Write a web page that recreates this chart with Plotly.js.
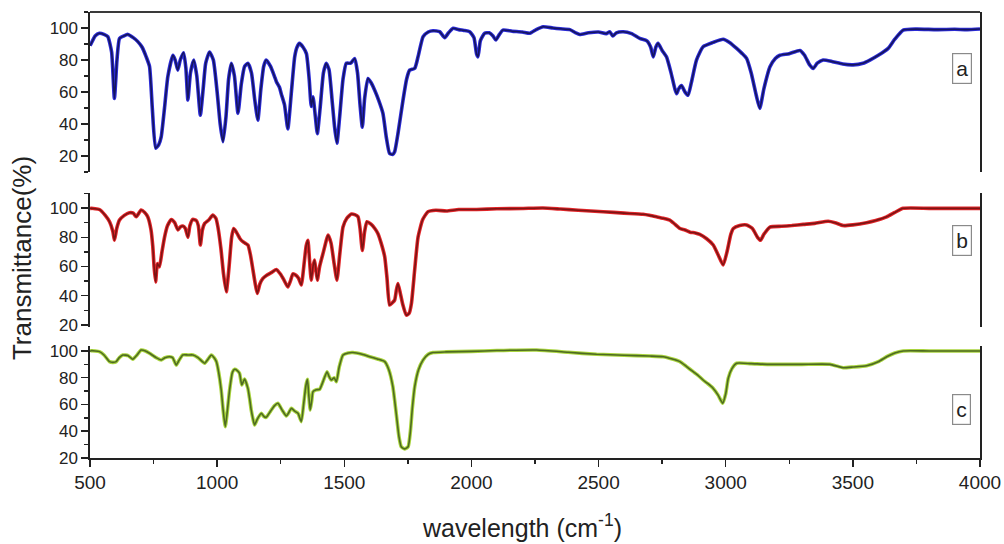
<!DOCTYPE html>
<html>
<head>
<meta charset="utf-8">
<script src="https://cdn.plot.ly/plotly-3.0.1.min.js"></script>
<style>
  html, body { margin: 0; padding: 0; background: #ffffff; }
  #chart { width: 1004px; height: 544px; }
</style>
</head>
<body>
<div id="chart"></div>
<script>
// ---- data ----
const xA = [500,505,520,537,555,570,585,596,606,616,632,649,670,688,705,721,734,745,758,770,780,793,806,826,835,845,855,868,877,885,895,908,920,934,945,955,970,985,1000,1012,1023,1035,1045,1056,1068,1082,1095,1108,1121,1135,1148,1160,1172,1183,1193,1210,1225,1233,1245,1252,1265,1278,1292,1305,1314,1324,1338,1351,1362,1370,1377,1386,1394,1405,1418,1429,1440,1452,1462,1471,1482,1495,1508,1525,1541,1552,1562,1571,1580,1593,1605,1620,1635,1652,1665,1678,1690,1698,1712,1731,1745,1757,1777,1790,1810,1830,1849,1875,1895,1910,1928,1950,1970,1993,2010,2020,2026,2035,2052,2070,2085,2096,2110,2124,2160,2200,2230,2255,2282,2320,2350,2387,2410,2426,2460,2500,2530,2544,2556,2570,2597,2630,2662,2690,2705,2715,2725,2734,2750,2767,2785,2800,2807,2815,2826,2840,2852,2865,2885,2911,2950,2990,3015,3043,3065,3082,3100,3120,3134,3150,3174,3195,3213,3250,3292,3310,3330,3344,3360,3383,3420,3460,3501,3540,3567,3600,3639,3665,3698,3750,3830,3900,3950,4000];
const yA = [89,90.4,95,96.7,96,94.6,85,56,80,93.5,95,96,94,91.5,88,82,76,50,25,27,32,50,69.6,83,80,73.7,80,84.6,75,55,72,80,70,45.6,62,78,85,80,60,40,29,45,68,78,70,46.7,65,76,78,72,55,42.5,62,76,80,76,70,66.5,63,59,52,37,60,82,88,90.4,88,84,68,51,57,45,34,50,72,78,74,55,38,28,45,68,78,78,81,72,52,38,56,68.5,66,61,55,46.7,32,21.7,21,22.7,35,55,68,73.7,74.8,82,94.6,97.5,98.3,97.7,94,97,99.8,99,98.5,97.7,94,84,82,92,96.7,97,95,92.5,96,98.7,98,97.5,96.7,99,100.8,100,99.5,99,97,96,97,97.5,96.5,97.7,95,97,97.7,96.5,93.5,92,88,82,88,90.4,86,82,72,62,59,62,64,60,58,66,80,88.3,91,93,91,87.3,84,81,72,58,49.8,62,75.8,81,83,84,86,83,77,74.8,78,80,79,77.5,77,78,80,83,87.3,93,98.7,99.3,99,99.2,99,99.4];

const xB = [500,505,537,560,577,590,596,605,616,635,655,670,682,701,715,727,740,747,752,758,765,773,783,793,805,820,833,846,855,865,875,885,893,904,918,926,934,942,951,968,983,995,1003,1015,1025,1036,1047,1057,1065,1074,1082,1090,1101,1110,1121,1131,1141,1150,1158,1168,1180,1195,1215,1233,1248,1262,1278,1288,1298,1310,1320,1331,1342,1350,1357,1363,1370,1377,1383,1388,1394,1403,1418,1428,1436,1448,1460,1471,1482,1495,1510,1528,1541,1554,1562,1571,1580,1589,1605,1620,1632,1645,1659,1668,1678,1688,1698,1705,1711,1720,1730,1744,1755,1764,1777,1790,1808,1829,1860,1902,1950,2020,2100,2200,2281,2350,2420,2518,2600,2675,2700,2728,2755,2780,2800,2820,2840,2860,2880,2898,2925,2951,2970,2990,3005,3020,3030,3055,3082,3105,3125,3137,3150,3174,3220,3260,3305,3350,3403,3430,3462,3500,3554,3590,3633,3665,3698,3800,3900,4000];
const yB = [99.5,99.8,99,95,90.6,84,78,86,91.8,95,96.8,96.5,94,98.6,97,94,85,73.5,60,49.5,62,59.8,70,80,88,92.2,90,85,87,87.7,86,80,88,92.2,91.5,88,74.7,85,89.5,92,95.2,93,87,72,55,42.7,60,80,86,84,81.5,79,77,76,74.7,68,57.5,48,41.6,48,51.8,54,56,58,55,51,46,50,55,54,52,47.3,62,74,78,65,50.7,60,64.4,58,50.7,60,70,77,81.5,76,62,50.7,68,87,93,95.9,95.5,94,86,71,84,90.6,89,86,82.6,76,66.6,52,33.6,35,37,44,48.4,42,34,26.7,28,34.7,58,80,92,97.5,98.5,98,99,99,99.5,99.7,100,99.3,98.5,97.5,96.5,95.7,95,94,93,91.8,89,86,85,83.5,83,82,79,74.7,68,61,70,82,86,88,88.4,86,80,78,82,87,87.5,88,88.8,89.5,91,90,88,88.5,90,91.5,94,97,99.8,99.8,99.8,99.8];

const xC = [500,505,537,555,577,590,603,615,629,650,668,685,701,718,734,760,780,795,813,825,839,850,865,885,905,925,951,965,977,988,997,1006,1016,1024,1032,1040,1049,1060,1069,1078,1088,1097,1108,1121,1128,1134,1140,1147,1158,1174,1184,1193,1210,1225,1239,1255,1272,1282,1292,1305,1318,1331,1340,1349,1355,1360,1366,1372,1377,1390,1403,1418,1432,1440,1449,1460,1469,1480,1495,1515,1534,1570,1600,1630,1659,1675,1691,1705,1715,1724,1737,1751,1760,1768,1777,1792,1810,1830,1849,1900,2000,2100,2256,2380,2492,2600,2700,2754,2790,2820,2845,2872,2890,2911,2930,2951,2970,2988,3000,3010,3025,3043,3100,3174,3300,3410,3440,3462,3500,3554,3600,3633,3665,3698,3800,4000];
const yC = [99.8,100.2,99.5,97,92,91.5,92,95,97,96.5,93.8,97,100.7,100,98.3,95,93.3,95,95.7,95,89.5,93,97,97,97,95,90.8,94,97,95,92,84,70.8,55,43.4,55,70.8,84,86.3,85.5,83.3,74.6,79,72,64,55.9,50,44.7,49,53.4,51,50.4,55,59,60.9,56,51.4,54,57.2,55,53.4,47.2,60,74,78.8,68,55.9,63,69.6,71,71.3,78,84.5,81,78.3,80,77,88,97,98.5,98.8,97.5,95.7,94,92,86,73.3,52,36,28.4,26.8,28.4,40,58,73.3,86,93.3,97.5,98.8,99.3,99.7,100.3,100.7,99,97.5,96.8,96.2,95.7,94,92,88.5,84.5,82,78.3,75.5,72,67,60.9,68,79.6,87,90.8,90.5,90,90,90,88.5,87.5,88,89,92,95.7,98.5,100,100,100];

const panelLabels = ['a', 'b', 'c'];
const xTitle = 'wavelength (cm<sup>-1</sup>)';
const yTitle = 'Transmittance(%)';
const yTickVals = [20, 40, 60, 80, 100];

// ---- styling ----
const series = [
  {x: xA, y: yA, ax: 'y',  halo: '#2b2bd6', core: '#15155e'},
  {x: xB, y: yB, ax: 'y2', halo: '#e3262a', core: '#7c1414'},
  {x: xC, y: yC, ax: 'y3', halo: '#a9d43e', core: '#4d6a22'}
];
const traces = [];
series.forEach(s => {
  traces.push({x: s.x, y: s.y, yaxis: s.ax, xaxis: 'x', mode: 'lines',
    line: {color: s.halo, width: 3.6, shape: 'spline', smoothing: 0.5},
    hoverinfo: 'skip', showlegend: false});
  traces.push({x: s.x, y: s.y, yaxis: s.ax, xaxis: 'x', mode: 'lines',
    line: {color: s.core, width: 1.6, shape: 'spline', smoothing: 0.5},
    showlegend: false});
});

const font = 'Arial';
function yax(domain, range) {
  return {
    domain: domain, range: range, anchor: 'x',
    showline: true, linecolor: '#222', linewidth: 1.6, mirror: true,
    ticks: 'outside', ticklen: 7, tickwidth: 1.5, tickcolor: '#222',
    tickvals: yTickVals, ticktext: yTickVals.map(String),
    minor: {tickvals: [10,30,50,70,90,110].filter(v => v >= range[0] && v <= range[1]), ticks: 'outside', ticklen: 4, tickwidth: 1.3, tickcolor: '#222'},
    tickfont: {family: font, size: 17, color: '#222'},
    showgrid: false, zeroline: false, fixedrange: true
  };
}

const layout = {
  width: 1004, height: 544,
  margin: {l: 90, r: 24, t: 12, b: 86},
  paper_bgcolor: '#ffffff', plot_bgcolor: '#ffffff',
  showlegend: false,
  font: {family: font, color: '#222'},
  xaxis: {
    domain: [0, 1], range: [500, 4000], anchor: 'y3',
    showline: true, linecolor: '#222', linewidth: 1.6,
    ticks: 'outside', ticklen: 7, tickwidth: 1.5, tickcolor: '#222',
    tick0: 500, dtick: 500,
    minor: {dtick: 250, ticks: 'outside', ticklen: 4, tickwidth: 1.3, tickcolor: '#222'},
    tickfont: {family: font, size: 19, color: '#222'},
    showgrid: false, zeroline: false, fixedrange: true
  },
  yaxis:  yax([0.641, 1], [10, 110]),
  yaxis2: yax([0.2937, 0.5942], [18.6, 110.3]),
  yaxis3: yax([0, 0.2511], [20, 103.7]),
  shapes: [
    {type: 'line', xref: 'paper', yref: 'paper', x0: 0, x1: 1, y0: 1, y1: 1,
     line: {color: '#3a3a3a', width: 2.2}}
  ],
  annotations: [
    {xref: 'x', yref: 'y',  x: 3929, y: 75,   text: panelLabels[0]},
    {xref: 'x', yref: 'y2', x: 3929, y: 78,   text: panelLabels[1]},
    {xref: 'x', yref: 'y3', x: 3929, y: 55.9, text: panelLabels[2]}
  ].map(a => Object.assign(a, {
    showarrow: false, font: {family: font, size: 21, color: '#222'},
    bordercolor: '#8a8a8a', borderwidth: 1.2, borderpad: 3, bgcolor: '#ffffff'
  })).concat([
    {xref: 'paper', yref: 'paper', x: -0.0765, y: 0.448, text: yTitle,
     textangle: -90, showarrow: false, xanchor: 'center', yanchor: 'middle',
     font: {family: font, size: 26, color: '#222'}},
    {xref: 'paper', yref: 'paper', x: (522 - 90) / 890, y: -(526 - 458) / 446, text: xTitle,
     showarrow: false, xanchor: 'center', yanchor: 'middle',
     font: {family: font, size: 25, color: '#222'}}
  ])
};

Plotly.newPlot('chart', traces, layout, {displayModeBar: false, staticPlot: true});
</script>
</body>
</html>
